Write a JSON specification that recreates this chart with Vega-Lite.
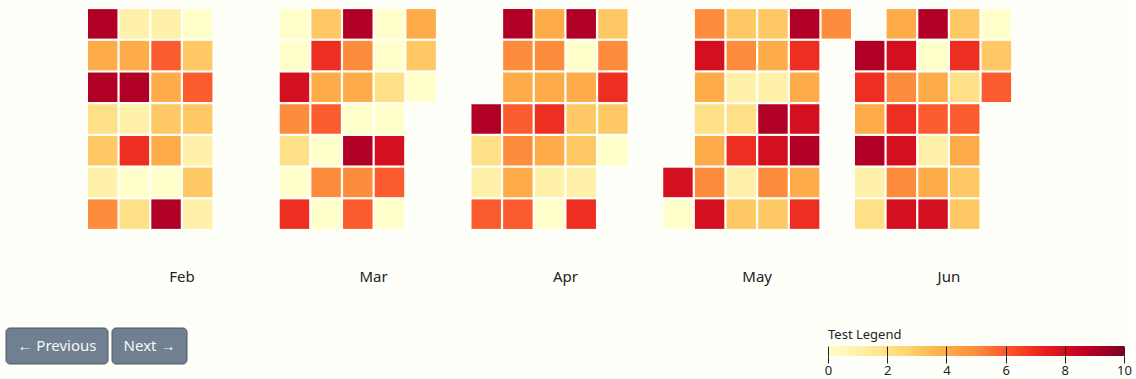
{
  "$schema": "https://vega.github.io/schema/vega-lite/v6.json",
  "background": "#fffffa",
  "padding": {"left": 5, "top": 8, "right": 0, "bottom": 0},
  "config": {"view": {"stroke": null}, "font": "Noto Sans"},
  "datasets": {
    "cells": [
      {"month":"Feb","week":0,"day":"Mon","value":9},{"month":"Feb","week":0,"day":"Tue","value":4},{"month":"Feb","week":0,"day":"Wed","value":9},{"month":"Feb","week":0,"day":"Thu","value":2},{"month":"Feb","week":0,"day":"Fri","value":3},{"month":"Feb","week":0,"day":"Sat","value":1},{"month":"Feb","week":0,"day":"Sun","value":5},
      {"month":"Feb","week":1,"day":"Mon","value":1},{"month":"Feb","week":1,"day":"Tue","value":4},{"month":"Feb","week":1,"day":"Wed","value":9},{"month":"Feb","week":1,"day":"Thu","value":1},{"month":"Feb","week":1,"day":"Fri","value":7},{"month":"Feb","week":1,"day":"Sat","value":0},{"month":"Feb","week":1,"day":"Sun","value":2},
      {"month":"Feb","week":2,"day":"Mon","value":1},{"month":"Feb","week":2,"day":"Tue","value":6},{"month":"Feb","week":2,"day":"Wed","value":4},{"month":"Feb","week":2,"day":"Thu","value":3},{"month":"Feb","week":2,"day":"Fri","value":4},{"month":"Feb","week":2,"day":"Sat","value":0},{"month":"Feb","week":2,"day":"Sun","value":9},
      {"month":"Feb","week":3,"day":"Mon","value":0},{"month":"Feb","week":3,"day":"Tue","value":3},{"month":"Feb","week":3,"day":"Wed","value":6},{"month":"Feb","week":3,"day":"Thu","value":3},{"month":"Feb","week":3,"day":"Fri","value":1},{"month":"Feb","week":3,"day":"Sat","value":3},{"month":"Feb","week":3,"day":"Sun","value":1},
      {"month":"Mar","week":0,"day":"Mon","value":0},{"month":"Mar","week":0,"day":"Tue","value":0},{"month":"Mar","week":0,"day":"Wed","value":8},{"month":"Mar","week":0,"day":"Thu","value":5},{"month":"Mar","week":0,"day":"Fri","value":2},{"month":"Mar","week":0,"day":"Sat","value":0},{"month":"Mar","week":0,"day":"Sun","value":7},
      {"month":"Mar","week":1,"day":"Mon","value":3},{"month":"Mar","week":1,"day":"Tue","value":7},{"month":"Mar","week":1,"day":"Wed","value":4},{"month":"Mar","week":1,"day":"Thu","value":6},{"month":"Mar","week":1,"day":"Fri","value":0},{"month":"Mar","week":1,"day":"Sat","value":5},{"month":"Mar","week":1,"day":"Sun","value":0},
      {"month":"Mar","week":2,"day":"Mon","value":9},{"month":"Mar","week":2,"day":"Tue","value":5},{"month":"Mar","week":2,"day":"Wed","value":4},{"month":"Mar","week":2,"day":"Thu","value":0},{"month":"Mar","week":2,"day":"Fri","value":9},{"month":"Mar","week":2,"day":"Sat","value":5},{"month":"Mar","week":2,"day":"Sun","value":6},
      {"month":"Mar","week":3,"day":"Mon","value":0},{"month":"Mar","week":3,"day":"Tue","value":0},{"month":"Mar","week":3,"day":"Wed","value":2},{"month":"Mar","week":3,"day":"Thu","value":0},{"month":"Mar","week":3,"day":"Fri","value":8},{"month":"Mar","week":3,"day":"Sat","value":6},{"month":"Mar","week":3,"day":"Sun","value":0},
      {"month":"Mar","week":4,"day":"Mon","value":4},{"month":"Mar","week":4,"day":"Tue","value":3},{"month":"Mar","week":4,"day":"Wed","value":0},
      {"month":"Apr","week":0,"day":"Thu","value":9},{"month":"Apr","week":0,"day":"Fri","value":2},{"month":"Apr","week":0,"day":"Sat","value":1},{"month":"Apr","week":0,"day":"Sun","value":6},
      {"month":"Apr","week":1,"day":"Mon","value":9},{"month":"Apr","week":1,"day":"Tue","value":5},{"month":"Apr","week":1,"day":"Wed","value":4},{"month":"Apr","week":1,"day":"Thu","value":6},{"month":"Apr","week":1,"day":"Fri","value":5},{"month":"Apr","week":1,"day":"Sat","value":4},{"month":"Apr","week":1,"day":"Sun","value":6},
      {"month":"Apr","week":2,"day":"Mon","value":4},{"month":"Apr","week":2,"day":"Tue","value":5},{"month":"Apr","week":2,"day":"Wed","value":4},{"month":"Apr","week":2,"day":"Thu","value":7},{"month":"Apr","week":2,"day":"Fri","value":4},{"month":"Apr","week":2,"day":"Sat","value":1},{"month":"Apr","week":2,"day":"Sun","value":0},
      {"month":"Apr","week":3,"day":"Mon","value":9},{"month":"Apr","week":3,"day":"Tue","value":0},{"month":"Apr","week":3,"day":"Wed","value":4},{"month":"Apr","week":3,"day":"Thu","value":3},{"month":"Apr","week":3,"day":"Fri","value":3},{"month":"Apr","week":3,"day":"Sat","value":1},{"month":"Apr","week":3,"day":"Sun","value":7},
      {"month":"Apr","week":4,"day":"Mon","value":3},{"month":"Apr","week":4,"day":"Tue","value":5},{"month":"Apr","week":4,"day":"Wed","value":7},{"month":"Apr","week":4,"day":"Thu","value":3},{"month":"Apr","week":4,"day":"Fri","value":0},
      {"month":"May","week":0,"day":"Sat","value":8},{"month":"May","week":0,"day":"Sun","value":0},
      {"month":"May","week":1,"day":"Mon","value":5},{"month":"May","week":1,"day":"Tue","value":8},{"month":"May","week":1,"day":"Wed","value":4},{"month":"May","week":1,"day":"Thu","value":2},{"month":"May","week":1,"day":"Fri","value":4},{"month":"May","week":1,"day":"Sat","value":5},{"month":"May","week":1,"day":"Sun","value":8},
      {"month":"May","week":2,"day":"Mon","value":3},{"month":"May","week":2,"day":"Tue","value":5},{"month":"May","week":2,"day":"Wed","value":1},{"month":"May","week":2,"day":"Thu","value":2},{"month":"May","week":2,"day":"Fri","value":7},{"month":"May","week":2,"day":"Sat","value":1},{"month":"May","week":2,"day":"Sun","value":3},
      {"month":"May","week":3,"day":"Mon","value":3},{"month":"May","week":3,"day":"Tue","value":4},{"month":"May","week":3,"day":"Wed","value":1},{"month":"May","week":3,"day":"Thu","value":9},{"month":"May","week":3,"day":"Fri","value":8},{"month":"May","week":3,"day":"Sat","value":5},{"month":"May","week":3,"day":"Sun","value":3},
      {"month":"May","week":4,"day":"Mon","value":9},{"month":"May","week":4,"day":"Tue","value":7},{"month":"May","week":4,"day":"Wed","value":4},{"month":"May","week":4,"day":"Thu","value":8},{"month":"May","week":4,"day":"Fri","value":9},{"month":"May","week":4,"day":"Sat","value":4},{"month":"May","week":4,"day":"Sun","value":7},
      {"month":"May","week":5,"day":"Mon","value":5},
      {"month":"Jun","week":0,"day":"Tue","value":9},{"month":"Jun","week":0,"day":"Wed","value":7},{"month":"Jun","week":0,"day":"Thu","value":4},{"month":"Jun","week":0,"day":"Fri","value":9},{"month":"Jun","week":0,"day":"Sat","value":1},{"month":"Jun","week":0,"day":"Sun","value":2},
      {"month":"Jun","week":1,"day":"Mon","value":4},{"month":"Jun","week":1,"day":"Tue","value":8},{"month":"Jun","week":1,"day":"Wed","value":5},{"month":"Jun","week":1,"day":"Thu","value":7},{"month":"Jun","week":1,"day":"Fri","value":8},{"month":"Jun","week":1,"day":"Sat","value":5},{"month":"Jun","week":1,"day":"Sun","value":8},
      {"month":"Jun","week":2,"day":"Mon","value":9},{"month":"Jun","week":2,"day":"Tue","value":0},{"month":"Jun","week":2,"day":"Wed","value":4},{"month":"Jun","week":2,"day":"Thu","value":6},{"month":"Jun","week":2,"day":"Fri","value":1},{"month":"Jun","week":2,"day":"Sat","value":4},{"month":"Jun","week":2,"day":"Sun","value":8},
      {"month":"Jun","week":3,"day":"Mon","value":3},{"month":"Jun","week":3,"day":"Tue","value":7},{"month":"Jun","week":3,"day":"Wed","value":2},{"month":"Jun","week":3,"day":"Thu","value":6},{"month":"Jun","week":3,"day":"Fri","value":4},{"month":"Jun","week":3,"day":"Sat","value":3},{"month":"Jun","week":3,"day":"Sun","value":3},
      {"month":"Jun","week":4,"day":"Mon","value":0},{"month":"Jun","week":4,"day":"Tue","value":3},{"month":"Jun","week":4,"day":"Wed","value":6}
    ]
  },
  "spacing": 43,
  "vconcat": [
    {
      "width": 1126,
      "height": 222,
      "data": {"name": "cells"},
      "mark": {"type": "rect"},
      "encoding": {
        "x": {
          "field": "month", "type": "nominal",
          "scale": {"domain": ["Feb", "Mar", "Apr", "May", "Jun"], "range": [80, 1038.75], "paddingInner": 0, "paddingOuter": 0},
          "axis": {"orient": "bottom", "title": null, "domain": false, "ticks": false, "tickSize": 0, "labelAngle": 0, "labelFontSize": 15, "labelColor": "#222222", "labelBaseline": "alphabetic", "labelPadding": 51}
        },
        "xOffset": {"field": "week", "type": "ordinal", "scale": {"domain": [0, 1, 2, 3, 4, 5], "paddingInner": 0.07, "paddingOuter": 0.0625}},
        "y": {"field": "day", "type": "ordinal", "scale": {"domain": ["Mon", "Tue", "Wed", "Thu", "Fri", "Sat", "Sun"], "paddingInner": 0.07, "paddingOuter": 0.035}, "axis": null},
        "color": {
          "field": "value", "type": "quantitative",
          "scale": {"domain": [0, 1.25, 2.5, 3.75, 5, 6.25, 7.5, 8.75, 10], "range": ["#ffffcc", "#ffeda0", "#fed976", "#feb24c", "#fd8d3c", "#fc4e2a", "#e31a1c", "#bd0026", "#800026"], "interpolate": "rgb"},
          "legend": null
        }
      }
    },
    {
      "spacing": 636,
      "hconcat": [
        {
          "spacing": 2,
          "hconcat": [
            {
              "width": 102, "height": 36,
              "data": {"values": [{"label": "← Previous"}]},
              "layer": [
                {"mark": {"type": "rect", "fill": "#708090", "stroke": "#4d5964", "strokeWidth": 1, "cornerRadius": 4}, "encoding": {}},
                {"mark": {"type": "text", "fontSize": 15, "color": "#f7f7f7", "align": "center", "baseline": "middle"}, "encoding": {"text": {"field": "label"}}}
              ]
            },
            {
              "width": 75, "height": 36,
              "data": {"values": [{"label": "Next →"}]},
              "layer": [
                {"mark": {"type": "rect", "fill": "#708090", "stroke": "#4d5964", "strokeWidth": 1, "cornerRadius": 4}, "encoding": {}},
                {"mark": {"type": "text", "fontSize": 15, "color": "#f7f7f7", "align": "center", "baseline": "middle"}, "encoding": {"text": {"field": "label"}}}
              ]
            }
          ]
        },
        {
          "spacing": 4,
          "vconcat": [
            {
              "width": 296, "height": 14,
              "data": {"values": [{"label": "Test Legend", "at": 0}]},
              "mark": {"type": "text", "fontSize": 13, "color": "#222222", "align": "left", "baseline": "middle"},
              "encoding": {
                "x": {"field": "at", "type": "quantitative", "scale": {"domain": [0, 10], "nice": false}, "axis": null},
                "text": {"field": "label"}
              }
            },
            {
              "width": 296, "height": 10,
              "data": {"values": [{"low": 0, "high": 10}]},
              "mark": {
                "type": "rect",
                "fill": {"gradient": "linear", "x1": 0, "x2": 1, "y1": 0, "y2": 0, "stops": [
                  {"offset": 0, "color": "#ffffcc"}, {"offset": 0.125, "color": "#ffeda0"}, {"offset": 0.25, "color": "#fed976"},
                  {"offset": 0.375, "color": "#feb24c"}, {"offset": 0.5, "color": "#fd8d3c"}, {"offset": 0.625, "color": "#fc4e2a"},
                  {"offset": 0.75, "color": "#e31a1c"}, {"offset": 0.875, "color": "#bd0026"}, {"offset": 1, "color": "#800026"}
                ]}
              },
              "encoding": {
                "x": {
                  "field": "low", "type": "quantitative",
                  "scale": {"domain": [0, 10], "nice": false},
                  "axis": {"orient": "bottom", "title": null, "values": [0, 2, 4, 6, 8, 10], "grid": true, "gridColor": "#222222", "gridOpacity": 1, "tickColor": "#222222", "tickSize": 7, "domain": false, "labelFontSize": 13, "labelColor": "#222222", "labelPadding": 1, "labelFlush": false, "zindex": 1}
                },
                "x2": {"field": "high"}
              }
            }
          ]
        }
      ]
    }
  ]
}
